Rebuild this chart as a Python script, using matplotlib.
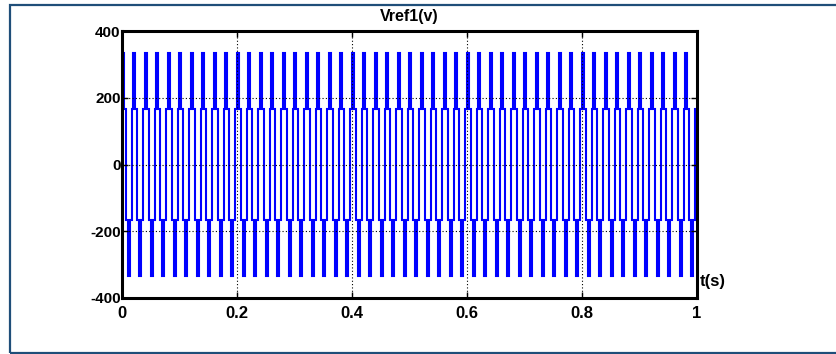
import matplotlib
matplotlib.use('Agg')
import matplotlib.pyplot as plt
from matplotlib.patches import Rectangle
import numpy as np

# six-step reference voltage, one period of levels (V), 50 Hz over 1 s
step_levels = [333, 167, -167, -333, -167, 167]
freq = 50
n_periods = 50

xticks = [0, 0.2, 0.4, 0.6, 0.8, 1]
xticklabels = ['0', '0.2', '0.4', '0.6', '0.8', '1']
yticks = [-400, -200, 0, 200, 400]
yticklabels = ['-400', '-200', '0', '200', '400']

plt.rcParams['font.family'] = 'Liberation Sans'
plt.rcParams['font.weight'] = 'bold'

#-------------------------------------------------------------------------
# build the stepped signal
#-------------------------------------------------------------------------

T = 1.0 / freq
nstep = len(step_levels)
t_edges = np.arange(n_periods * nstep + 1) * T / nstep
levels = np.tile(step_levels, n_periods)

fig = plt.figure(figsize=(8.36, 3.54), dpi=100)
ax = fig.add_axes([0.1459, 0.1582, 0.6878, 0.7542])

ax.stairs(levels, t_edges, color='#0000ff', linewidth=1.5, baseline=None)

ax.set_xlim(0, 1)
ax.set_ylim(-400, 400)
ax.set_xticks(xticks)
ax.set_yticks(yticks)
ax.set_xticklabels(xticklabels, fontsize=12, fontweight='bold')
ax.set_yticklabels(yticklabels, fontsize=11, fontweight='bold')
ax.tick_params(direction='in', length=4, width=1, top=True, right=True)
ax.tick_params(axis='x', pad=6)
ax.tick_params(axis='y', pad=1)
ax.grid(color='black', linestyle=(0, (1, 2)), linewidth=0.8)
for s in ax.spines.values():
  s.set_linewidth(2.2)

ax.set_title('Vref1(v)', fontsize=11.5, fontweight='bold', pad=7)
ax.text(1.004, 0.06, 't(s)', transform=ax.transAxes, fontsize=12,
        fontweight='bold', ha='left', va='center')

# outer frame
fig.patches.append(Rectangle((9.5 / 836, 1 - 352.5 / 354), 1.0, (352.5 - 5) / 354,
                             transform=fig.transFigure, fill=False,
                             edgecolor='#1f4e79', linewidth=1.6))

fig.savefig('out.png', dpi=100)
